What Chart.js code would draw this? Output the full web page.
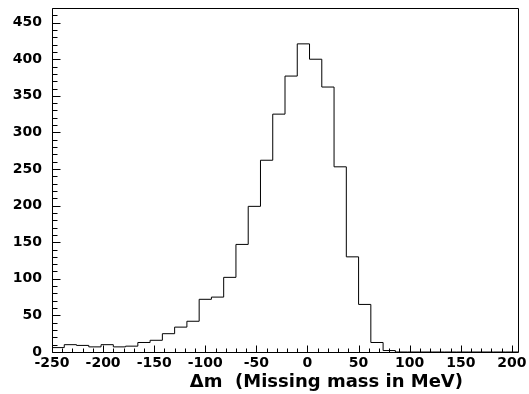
<!DOCTYPE html>
<html><head><meta charset="utf-8">
<script src="https://cdn.jsdelivr.net/npm/chart.js@4/dist/chart.umd.min.js"></script>
<style>html,body{margin:0;padding:0;background:#fff}#wrap{width:529px;height:394px;position:relative}</style>
</head><body><div id="wrap"><canvas id="c" width="529" height="394"></canvas></div>
<script>
// Histogram bin left edges (MeV), last entry is the right edge of the final bin
const binEdges = [-250,-238,-226,-214,-202,-190,-178,-166,-154,-142,-130,-118,-106,-94,-82,-70,-58,-46,-34,-22,-10,2,14,26,38,50,62,74,86,98,110,122,134,146,158,170,182,194,206];
// Counts per bin
const counts = [6,10,9,7,10,7,8,13,16,25,34,42,72,75,102,147,199,262,325,377,421,400,362,253,130,65,13,2,0,0,0,0,0,0,0,0,0,0];
const xTickLabels = [-250,-200,-150,-100,-50,0,50,100,150,200];
const yTickLabels = [0,50,100,150,200,250,300,350,400,450];
const xTitle = 'Δm  (Missing mass in MeV)';

const points = counts.map((c, i) => ({x: binEdges[i], y: c}));
points.push({x: binEdges[binEdges.length - 1], y: 0});

const FONT = 'DejaVu Sans';

const frameTicks = {
  id: 'frameTicks',
  afterDatasetsDraw(chart) {
    const {ctx, chartArea: a, scales: {x, y}} = chart;
    ctx.save();
    ctx.strokeStyle = '#000';
    ctx.lineWidth = 1;
    ctx.beginPath();
    ctx.rect(Math.round(a.left) + 0.5, Math.round(a.top) + 0.5, Math.round(a.right - a.left), Math.round(a.bottom - a.top));
    ctx.stroke();
    const bottom = Math.round(a.bottom) + 0.5;
    const left = Math.round(a.left) + 0.5;
    ctx.beginPath();
    for (let v = x.min; v <= x.max; v += 10) {
      const px = Math.round(x.getPixelForValue(v)) + 0.5;
      const len = (v % 50 === 0) ? 7 : 4;
      ctx.moveTo(px, bottom);
      ctx.lineTo(px, bottom - len);
    }
    for (let v = 0; v <= y.max; v += 10) {
      const py = Math.round(y.getPixelForValue(v)) + 0.5;
      const len = (v % 50 === 0) ? 8 : 5;
      ctx.moveTo(left, py);
      ctx.lineTo(left + len, py);
    }
    ctx.stroke();
    // axis title
    ctx.fillStyle = '#000';
    ctx.font = 'bold 18px ' + FONT;
    ctx.textAlign = 'right';
    ctx.textBaseline = 'alphabetic';
    ctx.fillText(chart.options.plugins.xTitle.text, 463, 387);
    ctx.restore();
  }
};

new Chart(document.getElementById('c'), {
  type: 'line',
  data: {
    datasets: [{
      data: points,
      stepped: 'before',
      borderColor: '#000',
      borderWidth: 1,
      pointRadius: 0,
      fill: false,
      tension: 0
    }]
  },
  options: {
    responsive: false,
    animation: false,
    devicePixelRatio: 1,
    layout: {padding: {top: 8, right: 11, left: 0, bottom: 0}},
    plugins: {legend: {display: false}, tooltip: {enabled: false}, xTitle: {text: xTitle}},
    scales: {
      x: {
        type: 'linear',
        min: -250, max: 206,
        grid: {display: false, drawTicks: false},
        border: {display: false},
        afterFit(s) { s.height = 42; s.paddingLeft = 0; s.paddingRight = 0; },
        afterBuildTicks(s) { s.ticks = xTickLabels.map(v => ({value: v})); },
        ticks: {
          includeBounds: false,
          autoSkip: false,
          maxRotation: 0,
          color: '#000',
          padding: 3,
          font: {family: FONT, weight: 'bold', size: 14}
        }
      },
      y: {
        type: 'linear',
        min: 0, max: 470,
        grid: {display: false, drawTicks: false},
        border: {display: false},
        afterFit(s) { s.width = 52; s.paddingTop = 0; s.paddingBottom = 0; },
        afterBuildTicks(s) { s.ticks = yTickLabels.map(v => ({value: v})); },
        ticks: {
          includeBounds: false,
          autoSkip: false,
          color: '#000',
          padding: 10,
          font: {family: FONT, weight: 'bold', size: 14}
        }
      }
    }
  },
  plugins: [frameTicks]
});
</script>
</body></html>
